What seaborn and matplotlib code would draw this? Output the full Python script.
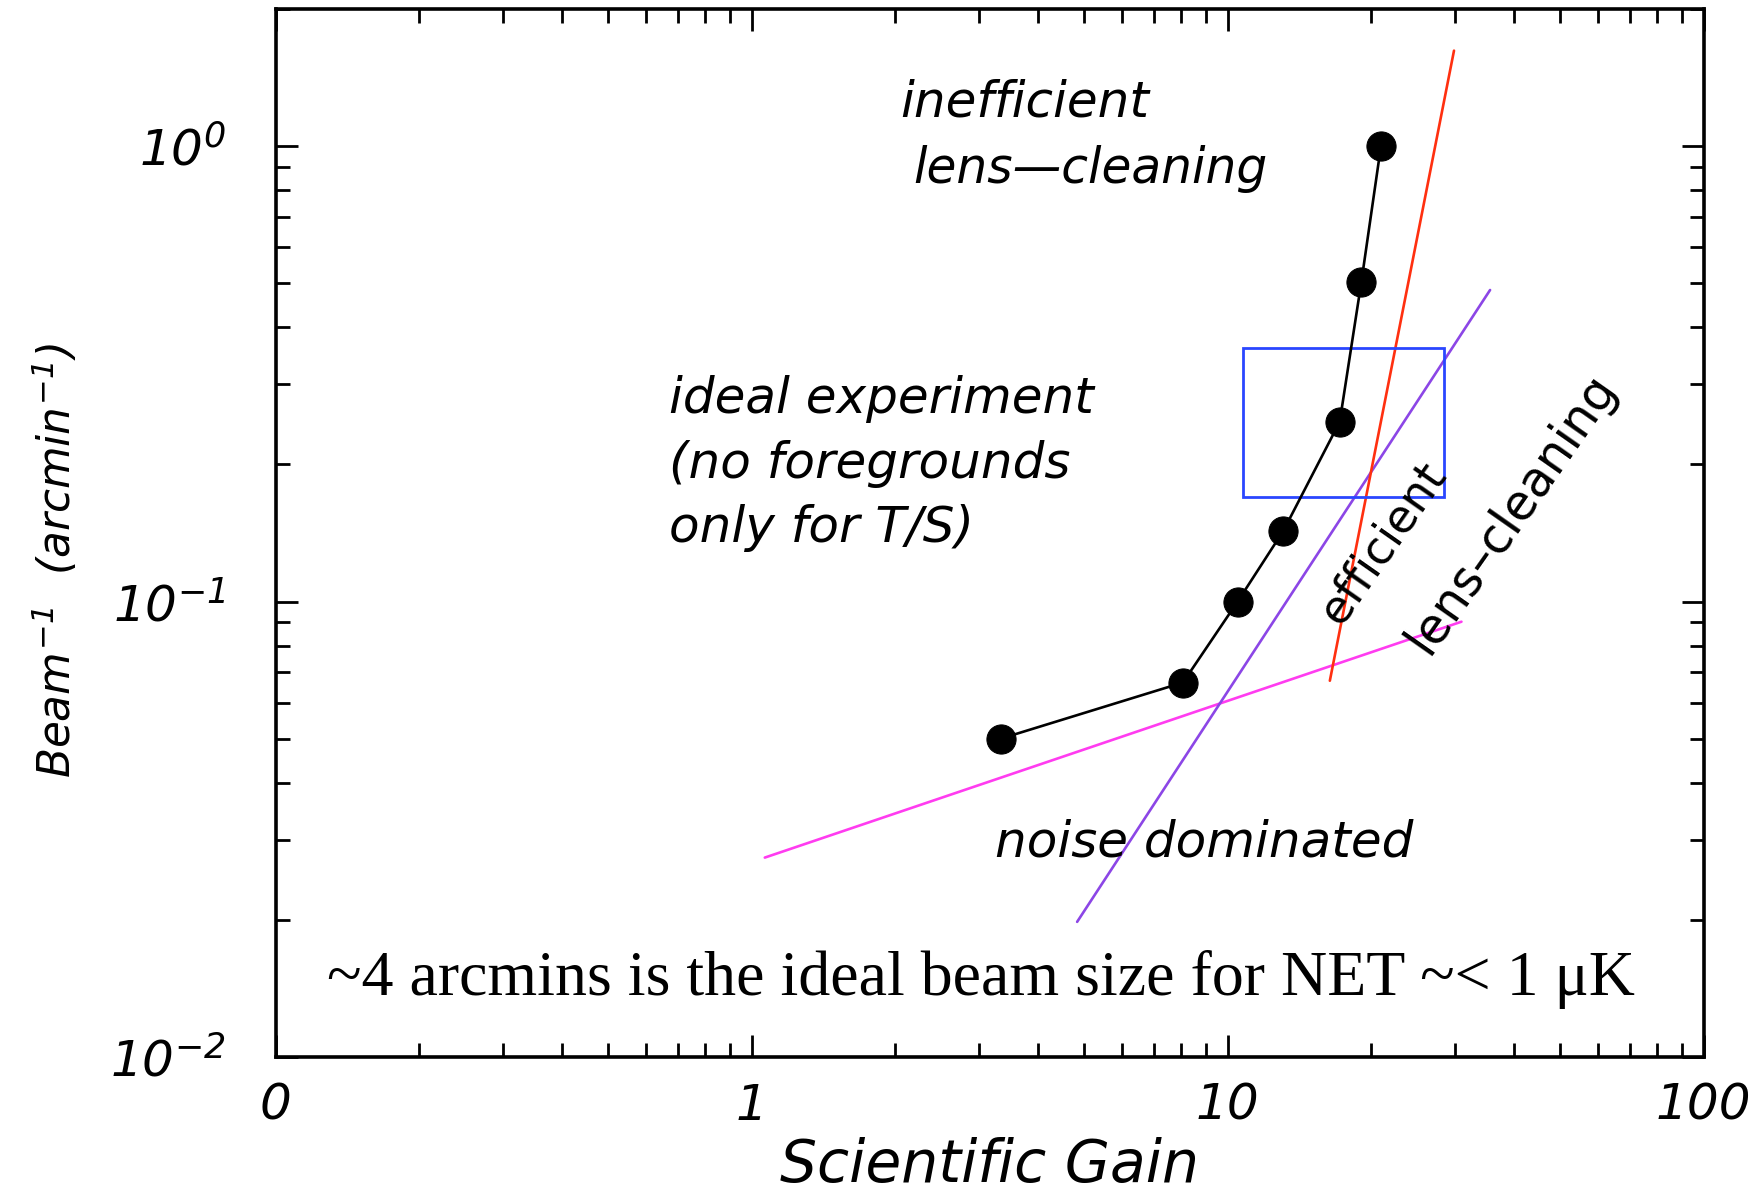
import matplotlib
matplotlib.use("Agg")
import matplotlib.pyplot as plt
from matplotlib.patches import Rectangle
from matplotlib.ticker import LogLocator, NullFormatter
import numpy as np
import pandas as pd
import seaborn as sns

# ---- data -------------------------------------------------------------
gain = [3.34, 8.06, 10.5, 13.1, 17.2, 19.1, 21.0]
beam = [0.050, 0.0664, 0.100, 0.143, 0.248, 0.503, 1.0]

efficient_x = [16.4, 29.9]
efficient_y = [0.067, 1.62]

ideal_x = [4.83, 35.6]
ideal_y = [0.0198, 0.483]

noise_x = [1.066, 31.0]
noise_y = [0.0274, 0.0903]

box_x = [10.8, 28.5]
box_y = [0.170, 0.361]

xticks = [0.1, 1, 10, 100]
xtick_labels = ["0", "1", "10", "100"]
yticks = [0.01, 0.1, 1]
ytick_labels = [r"$\mathit{10^{-2}}$", r"$\mathit{10^{-1}}$", r"$\mathit{10^{0}}$"]

# ---- style ------------------------------------------------------------
sns.set_style("ticks")
plt.rcParams["font.family"] = ["DejaVu Sans"]
plt.rcParams["mathtext.fontset"] = "custom"
plt.rcParams["mathtext.it"] = "DejaVu Sans:italic"
plt.rcParams["mathtext.rm"] = "DejaVu Sans:italic"
for key in ("text.color", "axes.labelcolor", "xtick.color", "ytick.color", "axes.edgecolor"):
    plt.rcParams[key] = "black"

fig = plt.figure(figsize=(17.63, 11.95), dpi=100)
ax = fig.add_axes([0.1563, 0.1155, 0.8100, 0.8770])
ax.set_xscale("log")
ax.set_yscale("log")
ax.set_xlim(0.1, 100)
ax.set_ylim(0.01, 2.0)

# reference curves
sns.lineplot(x=noise_x, y=noise_y, ax=ax, color="#ff3cf0", lw=1.9)
sns.lineplot(x=ideal_x, y=ideal_y, ax=ax, color="#8c46e6", lw=1.9)
sns.lineplot(x=efficient_x, y=efficient_y, ax=ax, color="#ff3010", lw=1.9)
ax.add_patch(Rectangle((box_x[0], box_y[0]), box_x[1] - box_x[0], box_y[1] - box_y[0],
                       fill=False, edgecolor="#2a46ff", lw=2.0, zorder=3))

# computed experiment curve
df = pd.DataFrame({"gain": gain, "beam": beam})
sns.lineplot(data=df, x="gain", y="beam", ax=ax, color="black", lw=1.9,
             marker="o", markersize=21, markeredgecolor="black",
             markerfacecolor="black", sort=False, zorder=4)

# ---- axes -------------------------------------------------------------
for s in ax.spines.values():
    s.set_linewidth(2.6)
    s.set_color("black")
    s.set_visible(True)

ax.set_xticks(xticks)
ax.set_xticklabels(xtick_labels, fontsize=36, style="italic")
ax.set_yticks(yticks)
ax.set_yticklabels(ytick_labels, fontsize=36)
ax.xaxis.set_minor_locator(LogLocator(base=10, subs=np.arange(2, 10)))
ax.yaxis.set_minor_locator(LogLocator(base=10, subs=np.arange(2, 10)))
ax.xaxis.set_minor_formatter(NullFormatter())
ax.yaxis.set_minor_formatter(NullFormatter())
ax.tick_params(which="both", direction="in", top=True, right=True, width=2, color="black")
ax.tick_params(which="major", length=16)
ax.tick_params(which="minor", length=10)
ax.tick_params(axis="x", which="major", pad=18)
ax.tick_params(axis="y", which="major", pad=36)

ax.set_xlabel("Scientific Gain", fontsize=42, style="italic", va="top")
ax.xaxis.set_label_coords(0.5, -0.076)
ax.set_ylabel(r"$\mathit{Beam^{-1}}\ \ \mathit{(arcmin^{-1})}$", fontsize=31.5)
ax.yaxis.set_label_coords(-0.137, 0.474)

# ---- annotations ------------------------------------------------------
txt = dict(fontsize=36, style="italic", ha="left", va="baseline", color="black")
ax.text(2.05, 1.159, "inefficient", **txt)
ax.text(2.185, 0.829, "lens\u2014cleaning", fontsize=35, style="italic",
        ha="left", va="baseline")
ax.text(0.671, 0.260, "ideal experiment", **txt)
ax.text(0.671, 0.187, "(no foregrounds", **txt)
ax.text(0.671, 0.135, "only for T/S)", **txt)
ax.text(3.25, 0.0275, "noise dominated", **txt)
ax.text(17.2, 0.0880, "efficient", rotation=55, rotation_mode="anchor",
        fontsize=33, ha="left", va="baseline")
ax.text(26.4, 0.0760, "lens\u2013cleaning", rotation=55, rotation_mode="anchor",
        fontsize=35, ha="left", va="baseline")
ax.text(0.494, 0.059, "~4 arcmins is the ideal beam size for NET ~< 1 \u03bcK",
        transform=ax.transAxes, fontsize=46, family=["Liberation Serif", "DejaVu Serif"],
        ha="center", va="baseline")

fig.savefig("out.png", dpi=100)
